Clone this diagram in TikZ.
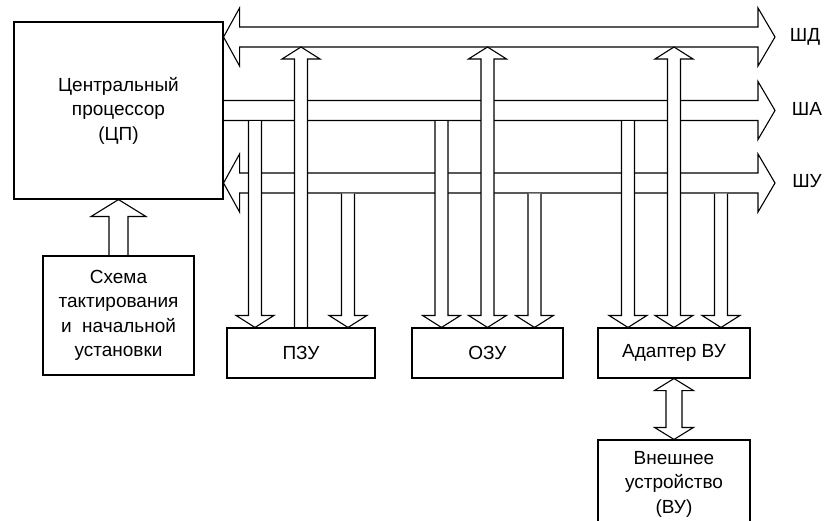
\documentclass[tikz,border=0pt]{standalone}
\usepackage{fontspec}
\setmainfont{Liberation Sans}
\usetikzlibrary{calc}

% width of the shaft, width and length of the head (half widths)
\def\shaftw{6.5pt}\def\headw{19pt}\def\headl{12pt}

% shaft from the level of #1 down to the tip at #2
\newcommand{\fatdown}[2]{%
  \draw[fat] let \p1=(#1), \p2=(#2) in
    (\x2-\shaftw,\y1) -- (\x2-\shaftw,\y2+\headl) -- (\x2-\headw,\y2+\headl) -- (\x2,\y2)
    -- (\x2+\headw,\y2+\headl) -- (\x2+\shaftw,\y2+\headl) -- (\x2+\shaftw,\y1);}
% shaft from #2 up to the tip at the level of #1
\newcommand{\fatup}[2]{%
  \draw[fat] let \p1=(#1), \p2=(#2) in
    (\x2-\shaftw,\y2) -- (\x2-\shaftw,\y1-\headl) -- (\x2-\headw,\y1-\headl) -- (\x2,\y1)
    -- (\x2+\headw,\y1-\headl) -- (\x2+\shaftw,\y1-\headl) -- (\x2+\shaftw,\y2);}
% heads at both ends
\newcommand{\fatboth}[2]{%
  \draw[fat] let \p1=(#1), \p2=(#2) in
    (\x2,\y1) -- (\x2+\headw,\y1-\headl) -- (\x2+\shaftw,\y1-\headl) -- (\x2+\shaftw,\y2+\headl)
    -- (\x2+\headw,\y2+\headl) -- (\x2,\y2) -- (\x2-\headw,\y2+\headl) -- (\x2-\shaftw,\y2+\headl)
    -- (\x2-\shaftw,\y1-\headl) -- (\x2-\headw,\y1-\headl) -- cycle;}

\begin{document}
\begin{tikzpicture}[x=1pt, y=-1pt, line width=1.1pt,
  box/.style={draw, fill=white, align=center, inner sep=0pt,
    font=\fontsize{19}{24.5}\selectfont},
  fat/.style={draw, fill=white, line join=miter},
  lbl/.style={font=\fontsize{19}{24.5}\selectfont}]

  \useasboundingbox (0,0) rectangle (827,521);
  \clip (0,0) rectangle (827,521);

  % blocks
  \node[box, minimum width=209pt, minimum height=177pt] (cpu) at (118.5,110.5)
    {Центральный\\процессор\\(ЦП)};
  \node[box, minimum width=151pt, minimum height=119pt] (clk) at (118.5,315.5)
    {Схема\\тактирования\\и~ начальной\\установки};
  \node[box, minimum width=148pt, minimum height=50pt] (rom) at (301,353) {ПЗУ};
  \node[box, minimum width=151pt, minimum height=50pt] (ram) at (487.5,353) {ОЗУ};
  \node[box, minimum width=152pt, minimum height=50pt] (adp) at (674,353) {Адаптер ВУ};
  \node[box, minimum width=152pt, minimum height=88pt] (vu) at (674,484)
    {Внешнее\\устройство\\(ВУ)};

  % шины: ШД, ША, ШУ
  \coordinate (shd) at (775,37);
  \coordinate (sha) at (775,110.5);
  \coordinate (shu) at (775,183);
  \draw[fat] let \p1=(cpu.east |- shd), \p2=(shd) in
    (\x1,\y1) -- (\x1+16pt,\y1+29pt) -- (\x1+16pt,\y1+10pt) -- (\x2-17pt,\y1+10pt)
    -- (\x2-17pt,\y1+29pt) -- (\x2,\y2) -- (\x2-17pt,\y2-29pt) -- (\x2-17pt,\y2-10pt)
    -- (\x1+16pt,\y2-10pt) -- (\x1+16pt,\y2-29pt) -- cycle;
  \draw[fat] let \p1=($(cpu.east |- sha)+(0.55,0)$), \p2=(sha) in
    (\x1,\y1+10pt) -- (\x2-17pt,\y1+10pt) -- (\x2-17pt,\y1+29pt) -- (\x2,\y2)
    -- (\x2-17pt,\y2-29pt) -- (\x2-17pt,\y2-10pt) -- (\x1,\y2-10pt);
  \draw[fat] let \p1=(cpu.east |- shu), \p2=(shu) in
    (\x1,\y1) -- (\x1+16pt,\y1+29pt) -- (\x1+16pt,\y1+10pt) -- (\x2-17pt,\y1+10pt)
    -- (\x2-17pt,\y1+29pt) -- (\x2,\y2) -- (\x2-17pt,\y2-29pt) -- (\x2-17pt,\y2-10pt)
    -- (\x1+16pt,\y2-10pt) -- (\x1+16pt,\y2-29pt) -- cycle;
  \node[lbl] (tshd) at (805,37) {ШД};
  \node[lbl] (tsha) at (807,109) {ША};
  \node[lbl] (tshu) at (807,181) {ШУ};

  % связи блоков с шинами
  \foreach \b in {rom,ram,adp}{
    \fatdown{$(sha)+(0,10.55)$}{$(\b.north)+(-46,0)$}
    \fatdown{$(shu)+(0,10.55)$}{$(\b.north)+(47,0)$}
  }
  \fatup{$(shd)+(0,10)$}{$(rom.north)+(0,-0.55)$}
  \fatboth{$(shd)+(0,10)$}{ram.north}
  \fatboth{$(shd)+(0,10)$}{adp.north}

  % тактирование и внешнее устройство
  \begin{scope}
    \def\shaftw{9.5pt}\def\headw{27.5pt}\def\headl{17pt}
    \fatup{cpu.south}{$(clk.north)+(0,-0.55)$}
  \end{scope}
  \begin{scope}
    \def\shaftw{8pt}\def\headw{19.5pt}
    \fatboth{adp.south}{vu.north}
  \end{scope}
\end{tikzpicture}
\end{document}
